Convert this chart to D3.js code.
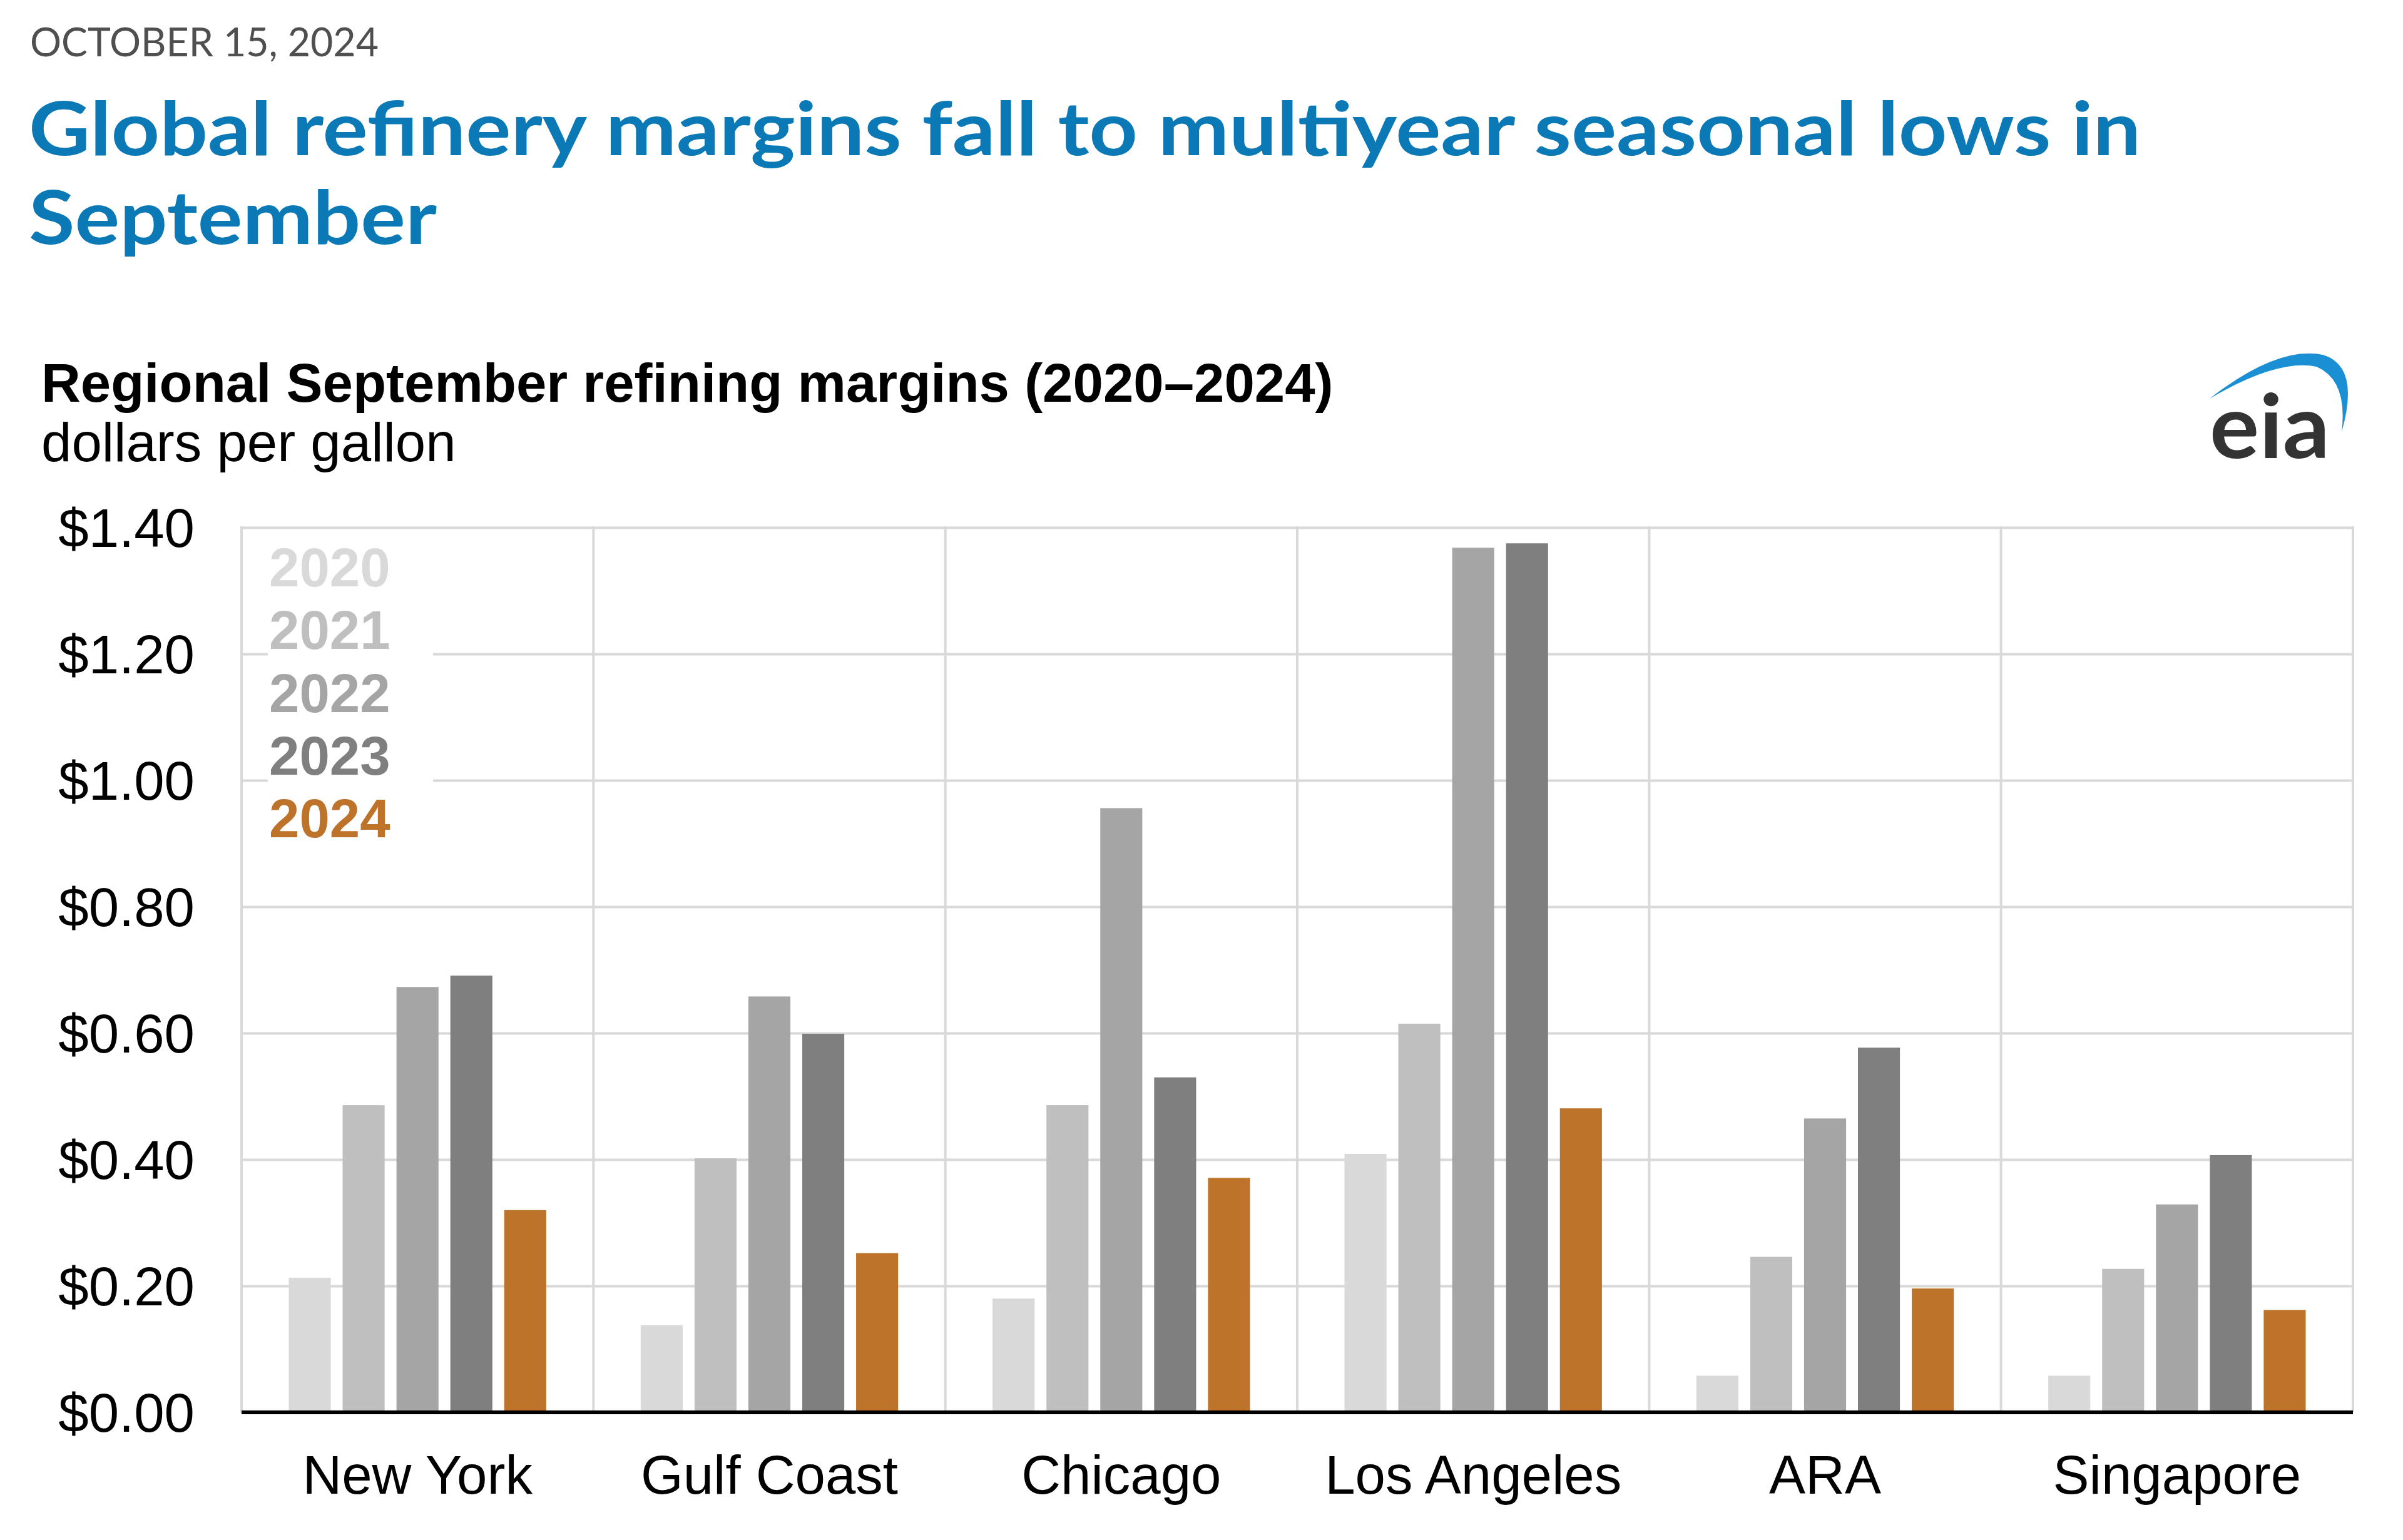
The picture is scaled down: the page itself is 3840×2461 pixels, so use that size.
<!DOCTYPE html>
<html>
<head>
<meta charset="utf-8">
<script src="https://cdn.jsdelivr.net/npm/d3@7"></script>
<style>
  html, body { margin: 0; padding: 0; background: #ffffff; }
  svg { display: block; }
</style>
</head>
<body>
<script>
// ---- data ----
const categories = ["New York", "Gulf Coast", "Chicago", "Los Angeles", "ARA", "Singapore"];
const years = ["2020", "2021", "2022", "2023", "2024"];
const values2020 = [0.213, 0.138, 0.180, 0.409, 0.058, 0.058];
const values2021 = [0.486, 0.402, 0.486, 0.615, 0.246, 0.227];
const values2022 = [0.673, 0.658, 0.956, 1.368, 0.465, 0.329];
const values2023 = [0.691, 0.599, 0.530, 1.375, 0.577, 0.407];
const values2024 = [0.320, 0.252, 0.371, 0.481, 0.196, 0.162];
const yTicks = [0, 0.2, 0.4, 0.6, 0.8, 1.0, 1.2, 1.4];
const yearColors = ["#d9d9d9", "#bfbfbf", "#a5a5a5", "#7f7f7f", "#bd732a"];

const dateText = "OCTOBER 15, 2024";
const headline1 = "Global refinery margins fall to multiyear seasonal lows in";
const headline2 = "September";
const chartTitle = "Regional September refining margins (2020\u20132024)";
const chartUnits = "dollars per gallon";

const series = [values2020, values2021, values2022, values2023, values2024];
const rows = [];
categories.forEach((c, ci) => {
  years.forEach((yr, yi) => rows.push({ cat: c, year: yr, value: series[yi][ci] }));
});

// ---- layout ----
const W = 3840, H = 2461;
const plot = { left: 386, right: 3760, top: 843, bottom: 2257 };
const ARIAL = "'Liberation Sans', Arial, sans-serif";
const HEAD = "Lato, 'Noto Sans', sans-serif";

const svg = d3.select("body").append("svg").attr("width", W).attr("height", H);
svg.append("rect").attr("width", W).attr("height", H).attr("fill", "#ffffff");

// Header
svg.append("text").attr("x", 48).attr("y", 90).text(dateText)
  .attr("font-family", HEAD).attr("font-size", 64).attr("fill", "#4f4f4f")
  .attr("textLength", 557).attr("lengthAdjust", "spacingAndGlyphs");
svg.append("text").attr("x", 46).attr("y", 248).text(headline1)
  .attr("font-family", HEAD).attr("font-weight", 700).attr("font-size", 118).attr("fill", "#0a79b6")
  .attr("textLength", 3375).attr("lengthAdjust", "spacingAndGlyphs");
svg.append("text").attr("x", 46).attr("y", 390).text(headline2)
  .attr("font-family", HEAD).attr("font-weight", 700).attr("font-size", 118).attr("fill", "#0a79b6")
  .attr("textLength", 652).attr("lengthAdjust", "spacingAndGlyphs");

// Chart title
svg.append("text").attr("x", 66).attr("y", 642).text(chartTitle)
  .attr("font-family", ARIAL).attr("font-weight", 700).attr("font-size", 87).attr("fill", "#000");
svg.append("text").attr("x", 66).attr("y", 737).text(chartUnits)
  .attr("font-family", ARIAL).attr("font-size", 87).attr("fill", "#000");

// EIA logo
const logo = svg.append("g");
logo.append("path")
  .attr("d", "M3531,637 Q3640,552 3712,567 Q3772,585 3742,690 Q3752,608 3702,586 Q3640,573 3531,637 Z")
  .attr("fill", "#1b8fd4");
logo.append("text").attr("x", 3531).attr("y", 732).text("eia")
  .attr("font-family", HEAD).attr("font-weight", 700).attr("font-size", 142).attr("fill", "#333333")
  .attr("textLength", 192).attr("lengthAdjust", "spacingAndGlyphs");

// Scales
const y = d3.scaleLinear().domain([0, 1.4]).range([plot.bottom, plot.top]);
const x0 = d3.scaleBand().domain(categories).range([plot.left, plot.right]).padding(0);
const x1 = d3.scaleBand().domain(years).range([0, x0.bandwidth()]).paddingInner(0.22).paddingOuter(0.877);
const color = d3.scaleOrdinal().domain(years).range(yearColors);

// Horizontal gridlines + y labels
const yAxis = d3.axisLeft(y).tickValues(yTicks)
  .tickSize(-(plot.right - plot.left)).tickPadding(75)
  .tickFormat(d => "$" + d.toFixed(2));
const gy = svg.append("g").attr("transform", `translate(${plot.left},0)`).call(yAxis);
gy.select(".domain").remove();
gy.selectAll(".tick line").attr("stroke", "#d9d9d9").attr("stroke-width", 4);
gy.selectAll(".tick text").attr("font-family", ARIAL).attr("font-size", 87).attr("fill", "#000")
  .attr("dy", "0.35em");

// Vertical gridlines at category boundaries
const bounds = categories.map(c => x0(c)).concat([plot.right]);
svg.append("g").selectAll("line").data(bounds).join("line")
  .attr("x1", d => d).attr("x2", d => d)
  .attr("y1", plot.top - 2).attr("y2", plot.bottom)
  .attr("stroke", "#d9d9d9").attr("stroke-width", 4);

// Legend background (covers gridlines)
svg.append("rect").attr("x", 428).attr("y", 856).attr("width", 264).attr("height", 508).attr("fill", "#ffffff");

// Bars
svg.append("g").selectAll("rect").data(rows).join("rect")
  .attr("x", d => x0(d.cat) + x1(d.year))
  .attr("width", x1.bandwidth())
  .attr("y", d => y(d.value))
  .attr("height", d => y(0) - y(d.value))
  .attr("fill", d => color(d.year));

// Baseline
svg.append("line").attr("x1", plot.left).attr("x2", plot.right)
  .attr("y1", y(0)).attr("y2", y(0)).attr("stroke", "#000").attr("stroke-width", 6);

// X labels
const xAxis = d3.axisBottom(x0).tickSize(0).tickPadding(68);
const gx = svg.append("g").attr("transform", `translate(0,${plot.bottom})`).call(xAxis);
gx.select(".domain").remove();
gx.selectAll(".tick text").attr("font-family", ARIAL).attr("font-size", 87).attr("fill", "#000");

// Legend
svg.append("g").selectAll("text").data(years).join("text")
  .attr("x", 430).attr("y", (d, i) => 937 + i * 100.25)
  .text(d => d)
  .attr("font-family", ARIAL).attr("font-weight", 700).attr("font-size", 87)
  .attr("fill", d => color(d));
</script>
</body>
</html>
